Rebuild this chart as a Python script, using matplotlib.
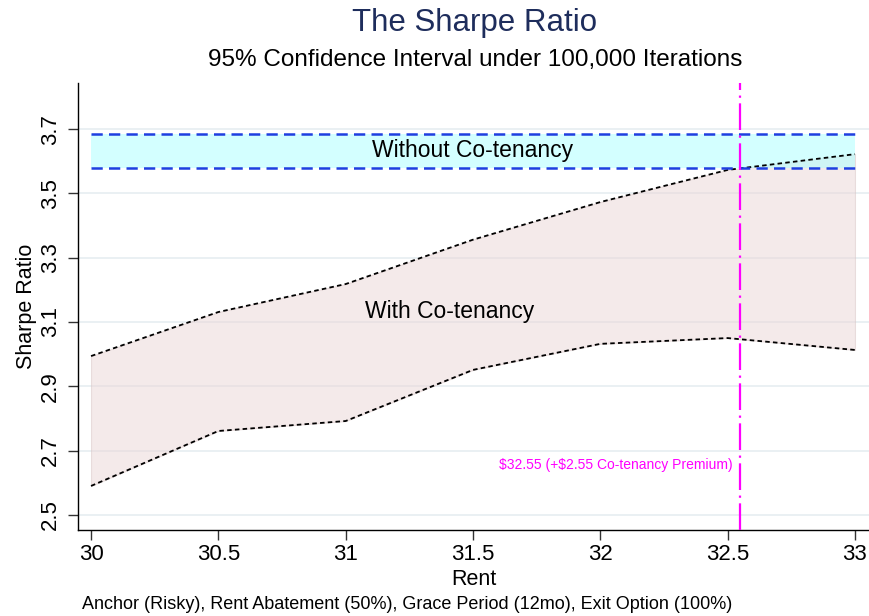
import matplotlib
matplotlib.use("Agg")
import matplotlib.pyplot as plt
import numpy as np

plt.rcParams['font.family'] = ['Liberation Sans', 'DejaVu Sans']

rent = [30, 30.5, 31, 31.5, 32, 32.5, 33]
with_upper = [2.994, 3.131, 3.218, 3.356, 3.473, 3.573, 3.622]
with_lower = [2.590, 2.761, 2.792, 2.951, 3.032, 3.050, 3.013]
without_upper = 3.684
without_lower = 3.579
breakeven = 32.55
xticks = [30, 30.5, 31, 31.5, 32, 32.5, 33]
xticklabels = ["30", "30.5", "31", "31.5", "32", "32.5", "33"]
yticks = [2.5, 2.7, 2.9, 3.1, 3.3, 3.5, 3.7]
yticklabels = ["2.5", "2.7", "2.9", "3.1", "3.3", "3.5", "3.7"]

fig = plt.figure(figsize=(8.7, 6.16), dpi=100)
ax = fig.add_axes([0.0897, 0.1396, 0.9103, 0.7255])

ax.set_xlim(29.949, 33.059)
ax.set_ylim(2.453, 3.843)

for y in yticks:
    ax.axhline(y, color='#e6edf1', lw=1.2, zorder=0)

ax.fill_between(rent, with_lower, with_upper, facecolor='#ead6d6', alpha=0.5,
                edgecolor='#d8c4c4', lw=0.8, zorder=1)
ax.plot(rent, with_upper, color='black', ls=(0, (2.5, 1.8)), lw=1.3, zorder=3)
ax.plot(rent, with_lower, color='black', ls=(0, (2.5, 1.8)), lw=1.3, zorder=3)

ax.fill_between([rent[0], rent[-1]], [without_lower] * 2, [without_upper] * 2,
                facecolor='#b0ffff', alpha=0.55, edgecolor='none', zorder=2)
ax.plot([rent[0], rent[-1]], [without_upper] * 2, color='#1f3fe0', ls=(0, (4.5, 2.5)), lw=1.8, zorder=4)
ax.plot([rent[0], rent[-1]], [without_lower] * 2, color='#1f3fe0', ls=(0, (4.5, 2.5)), lw=1.8, zorder=4)

ax.axvline(breakeven, color='#ff00ff', lw=1.6, ls=(0, (12, 2.5, 1, 2.5)), zorder=5)

ax.text(31.5, 3.632, "Without Co-tenancy", ha='center', va='center', fontsize=16.5, zorder=6)
ax.text(31.41, 3.134, "With Co-tenancy", ha='center', va='center', fontsize=16.5, zorder=6)
ax.text(32.52, 2.655, r"\$32.55 (+\$2.55 Co-tenancy Premium)", ha='right', va='center',
        fontsize=10, color='#ff00ff', zorder=6)

ax.set_xticks(xticks)
ax.set_xticklabels(xticklabels, fontsize=16)
ax.set_yticks(yticks)
ax.set_yticklabels(yticklabels, fontsize=16, rotation=90, va='center')
ax.tick_params(axis='both', direction='out', length=7.2, width=1, color='#333333')
ax.tick_params(axis='y', pad=5)
ax.tick_params(axis='x', pad=3)

for s in ['top', 'right']:
    ax.spines[s].set_visible(False)
ax.spines['left'].set_linewidth(1)
ax.spines['bottom'].set_linewidth(1)

ax.set_xlabel("Rent", fontsize=15.5, labelpad=3)
ax.set_ylabel("Sharpe Ratio", fontsize=15.5, labelpad=2)

fig.text(0.546, 0.963, "The Sharpe Ratio", ha='center', va='center', fontsize=22.5, color='#1e2d5c')
fig.text(0.546, 0.902, "95% Confidence Interval under 100,000 Iterations", ha='center', va='center', fontsize=17.5)
fig.text(0.094, 0.019, "Anchor (Risky), Rent Abatement (50%), Grace Period (12mo), Exit Option (100%)",
         ha='left', va='center', fontsize=13)

fig.savefig("out.png", dpi=100, facecolor='white')
